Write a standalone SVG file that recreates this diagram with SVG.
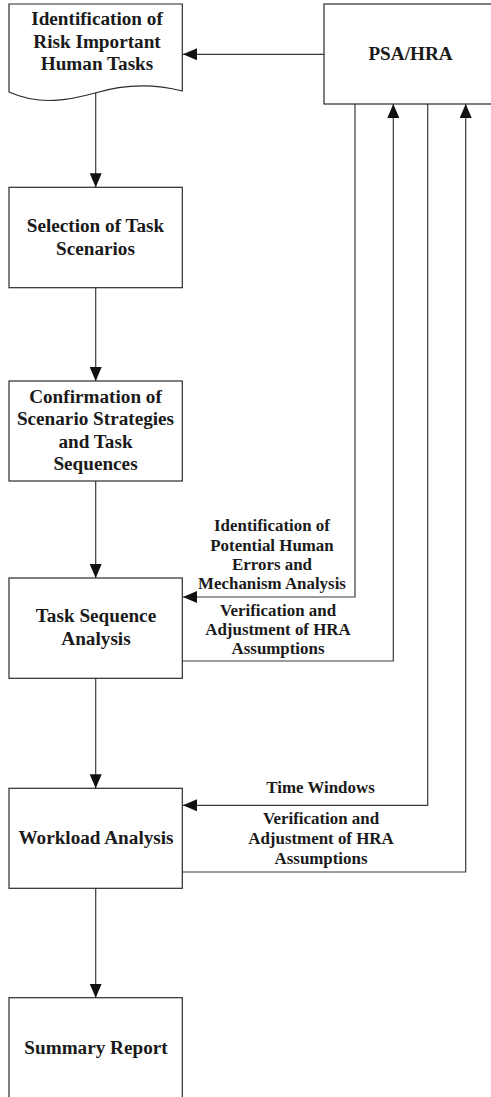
<svg xmlns="http://www.w3.org/2000/svg" width="491" height="1097" viewBox="0 0 491 1097">
  <style>
    .box { fill: #ffffff; stroke: #2a2a2a; stroke-width: 1.2; }
    .edge { fill: none; stroke: #3a3a3a; stroke-width: 1.2; }
    .t { font-family: "Liberation Serif", "Times New Roman", serif; font-weight: bold; fill: #1a1a1a; text-anchor: middle; }
    .main { font-size: 19.2px; }
    .lbl { font-size: 16.9px; }
  </style>
  <defs>
    <marker id="arrow" viewBox="0 0 14 12" refX="14" refY="6" markerWidth="14" markerHeight="12" markerUnits="userSpaceOnUse" orient="auto">
      <path d="M0,0 L14,6 L0,12 Z" fill="#111111"/>
    </marker>
  </defs>
  <rect width="491" height="1097" fill="#ffffff"/>

  <!-- connectors -->
  <g id="connectors">
    <line class="edge" x1="324" y1="54.3" x2="183" y2="54.3" marker-end="url(#arrow)"/>
    <line class="edge" x1="95.7" y1="93" x2="95.7" y2="187.3" marker-end="url(#arrow)"/>
    <line class="edge" x1="95.7" y1="288" x2="95.7" y2="381" marker-end="url(#arrow)"/>
    <line class="edge" x1="95.7" y1="481" x2="95.7" y2="578" marker-end="url(#arrow)"/>
    <line class="edge" x1="95.7" y1="678.3" x2="95.7" y2="788.3" marker-end="url(#arrow)"/>
    <line class="edge" x1="95.7" y1="888.3" x2="95.7" y2="997.7" marker-end="url(#arrow)"/>
    <!-- PSA/HRA feedback loops -->
    <polyline class="edge" points="355,104 355,597 183,597" marker-end="url(#arrow)"/>
    <polyline class="edge" points="182.3,661 393.3,661 393.3,104" marker-end="url(#arrow)"/>
    <polyline class="edge" points="427.7,104 427.7,805.3 183,805.3" marker-end="url(#arrow)"/>
    <polyline class="edge" points="182.3,872 465.7,872 465.7,104" marker-end="url(#arrow)"/>
    <!-- connector labels -->
    <text class="t lbl" x="272" y="530.7">Identification of</text>
    <text class="t lbl" x="272" y="550.7">Potential Human</text>
    <text class="t lbl" x="272" y="570">Errors and</text>
    <text class="t lbl" x="272" y="589.3">Mechanism Analysis</text>
    <text class="t lbl" x="278" y="615.7">Verification and</text>
    <text class="t lbl" x="278" y="635">Adjustment of HRA</text>
    <text class="t lbl" x="278" y="654">Assumptions</text>
    <text class="t lbl" x="320.5" y="793.3">Time Windows</text>
    <text class="t lbl" x="321" y="824">Verification and</text>
    <text class="t lbl" x="321" y="844">Adjustment of HRA</text>
    <text class="t lbl" x="321" y="864">Assumptions</text>
  </g>

  <g id="risk-tasks">
    <path class="box" d="M9,92 V4 H182.3 V91 C155,84 125,84 95,93 C70,100 40,106 9,92 Z"/>
    <text class="t main" x="97" y="25">Identification of</text>
    <text class="t main" x="97" y="47.5">Risk Important</text>
    <text class="t main" x="97" y="70">Human Tasks</text>
  </g>

  <g id="psa-hra">
    <rect class="box" x="324" y="4" width="180" height="100"/>
    <text class="t main" x="410.5" y="60">PSA/HRA</text>
  </g>

  <g id="task-scenarios">
    <rect class="box" x="9" y="187.3" width="173.3" height="100.4"/>
    <text class="t main" x="95.5" y="232.3">Selection of Task</text>
    <text class="t main" x="95.5" y="255">Scenarios</text>
  </g>

  <g id="strategies">
    <rect class="box" x="9" y="381" width="173.3" height="100"/>
    <text class="t main" x="95.5" y="402.7">Confirmation of</text>
    <text class="t main" x="95.5" y="425">Scenario Strategies</text>
    <text class="t main" x="95.5" y="447.7">and Task</text>
    <text class="t main" x="95.5" y="470">Sequences</text>
  </g>

  <g id="task-sequence">
    <rect class="box" x="9" y="578" width="173.3" height="100.3"/>
    <text class="t main" x="96" y="622.3">Task Sequence</text>
    <text class="t main" x="96" y="645">Analysis</text>
  </g>

  <g id="workload">
    <rect class="box" x="9" y="788.3" width="173.3" height="100"/>
    <text class="t main" x="96" y="844">Workload Analysis</text>
  </g>

  <g id="summary">
    <rect class="box" x="9" y="997.7" width="173.3" height="120"/>
    <text class="t main" x="96" y="1054">Summary Report</text>
  </g>
</svg>
